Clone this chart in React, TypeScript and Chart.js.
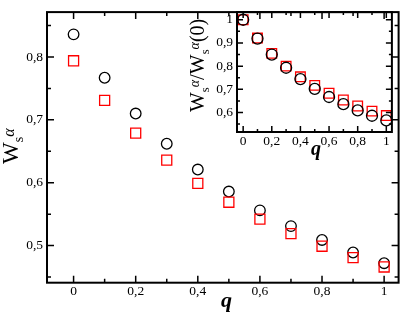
import React, { useEffect, useRef } from "react";
import { Chart, registerables } from "chart.js";

Chart.register(...registerables);

// ---------- data ----------
const Q = [0, 0.1, 0.2, 0.3, 0.4, 0.5, 0.6, 0.7, 0.8, 0.9, 1];
const MAIN_CIRCLES = [0.836, 0.767, 0.71, 0.662, 0.621, 0.586, 0.556, 0.531, 0.509, 0.489, 0.472];
const MAIN_SQUARES = [0.794, 0.731, 0.679, 0.636, 0.599, 0.569, 0.542, 0.519, 0.499, 0.481, 0.466];
const INSET_CIRCLES = [1.0, 0.919, 0.85, 0.793, 0.744, 0.702, 0.667, 0.636, 0.609, 0.586, 0.566];
const INSET_SQUARES = [1.0, 0.921, 0.855, 0.8, 0.754, 0.717, 0.683, 0.654, 0.628, 0.606, 0.587];

const MAIN_X_TICKS = [0, 0.2, 0.4, 0.6, 0.8, 1];
const MAIN_X_MINOR = [0.1, 0.3, 0.5, 0.7, 0.9];
const MAIN_Y_TICKS = [0.5, 0.6, 0.7, 0.8];
const MAIN_Y_MINOR = [0.45, 0.55, 0.65, 0.75, 0.85];
const INSET_X_TICKS = [0, 0.2, 0.4, 0.6, 0.8, 1];
const INSET_X_MINOR = [0.1, 0.3, 0.5, 0.7, 0.9];
const INSET_Y_TICKS = [0.6, 0.7, 0.8, 0.9, 1];
const INSET_Y_MINOR = [0.55, 0.65, 0.75, 0.85, 0.95];

const RED = "rgb(255,0,0)";

const fmt = (v: number) => {
  if (Math.abs(v) < 1e-9) return "0";
  if (Math.abs(v - 1) < 1e-9) return "1";
  return v.toFixed(1).replace(".", ",");
};

// pick an installed Times-like serif and the size factors that give Times-like widths
function pickFont() {
  const c = document.createElement("canvas").getContext("2d")!;
  const probe = "W0,8αq(Ws)";
  const has = (f: string) => {
    c.font = `40px ${f}, monospace`;
    const a = c.measureText(probe).width;
    c.font = "40px monospace";
    const b = c.measureText(probe).width;
    return Math.abs(a - b) > 0.5;
  };
  const cands = ['"Liberation Serif"', '"Times New Roman"', '"DejaVu Serif Condensed"', '"DejaVu Serif"'];
  let fam = "serif";
  for (const f of cands) {
    if (has(f)) {
      fam = f;
      break;
    }
  }
  fam = `${fam}, serif`;
  c.font = `100px ${fam}`;
  const kDigits = 125 / c.measureText("0,8").width; // Times: 1.25em
  const kW = 94.4 / c.measureText("W").width; // Times: 0.944em
  return { fam, kDigits: Math.min(1, kDigits), kW: Math.min(1, kW) };
}

type Part = { t: string; f: string; dy: number; keep?: boolean };

function drawRich(ctx: CanvasRenderingContext2D, x: number, y: number, parts: Part[], rotate: boolean) {
  ctx.save();
  ctx.translate(x, y);
  if (rotate) ctx.rotate(-Math.PI / 2);
  ctx.fillStyle = "#000";
  ctx.textBaseline = "alphabetic";
  ctx.textAlign = "left";
  let cx = 0;
  let groupW = 0;
  for (const p of parts) {
    ctx.font = p.f;
    ctx.fillText(p.t, cx, p.dy);
    const w = ctx.measureText(p.t).width;
    groupW = Math.max(groupW, w);
    if (!p.keep) {
      cx += groupW;
      groupW = 0;
    }
  }
  ctx.restore();
}

const framePlugin = {
  id: "frame",
  afterDraw(chart: any, _args: any, opts: any) {
    const { ctx, chartArea: a, scales } = chart;
    const x = scales.x;
    const y = scales.y;
    ctx.save();
    ctx.strokeStyle = "#000";
    ctx.lineWidth = opts.tickWidth;
    const vTick = (v: number, len: number) => {
      const px = x.getPixelForValue(v);
      ctx.beginPath();
      ctx.moveTo(px, a.bottom);
      ctx.lineTo(px, a.bottom - len);
      ctx.moveTo(px, a.top);
      ctx.lineTo(px, a.top + len);
      ctx.stroke();
    };
    const hTick = (v: number, len: number) => {
      const py = y.getPixelForValue(v);
      ctx.beginPath();
      ctx.moveTo(a.left, py);
      ctx.lineTo(a.left + len, py);
      ctx.moveTo(a.right, py);
      ctx.lineTo(a.right - len, py);
      ctx.stroke();
    };
    opts.xMajor.forEach((v: number) => vTick(v, opts.major));
    opts.xMinor.forEach((v: number) => vTick(v, opts.minor));
    opts.yMajor.forEach((v: number) => hTick(v, opts.major));
    opts.yMinor.forEach((v: number) => hTick(v, opts.minor));
    ctx.lineWidth = opts.lineWidth;
    ctx.strokeRect(a.left, a.top, a.right - a.left, a.bottom - a.top);
    ctx.restore();
  },
};

const titlesPlugin = {
  id: "titles",
  afterDraw(chart: any, _args: any, opts: any) {
    const ctx = chart.ctx;
    opts.items.forEach((it: any) => drawRich(ctx, it.x, it.y, it.parts, it.rotate));
  },
};

function axis(min: number, max: number, ticks: number[], padding: number, size: number, horizontal: boolean, fam: string, fs: number) {
  return {
    type: "linear" as const,
    min,
    max,
    grid: { display: false, drawTicks: false },
    border: { display: false },
    ticks: {
      color: "#000",
      font: { family: fam, size: fs },
      padding,
      autoSkip: false,
      maxRotation: 0,
      callback: (v: any) => fmt(Number(v)),
    },
    afterBuildTicks: (s: any) => {
      s.ticks = ticks.map((v) => ({ value: v }));
    },
    afterFit: (s: any) => {
      if (horizontal) s.height = size;
      else s.width = size;
    },
  };
}

function points(ys: number[]) {
  return Q.map((q, i) => ({ x: q, y: ys[i] }));
}

export default function App() {
  const mainRef = useRef<HTMLCanvasElement>(null);
  const insetRef = useRef<HTMLCanvasElement>(null);

  useEffect(() => {
    const { fam, kDigits, kW } = pickFont();
    const tickSize = 13.5 * kDigits;
    const big = (s: number) => `${(s * kW).toFixed(2)}px ${fam}`;
    const small = (s: number) => `${(s * kW).toFixed(2)}px ${fam}`;
    const ital = (s: number, bold = false) => `italic ${bold ? "bold " : ""}${(s * kW).toFixed(2)}px ${fam}`;

    const main = new Chart(mainRef.current!, {
      type: "scatter",
      data: {
        datasets: [
          {
            data: points(MAIN_SQUARES),
            pointStyle: "rect",
            pointRadius: 7.1,
            pointBorderColor: RED,
            pointBackgroundColor: "rgba(0,0,0,0)",
            pointBorderWidth: 1.3,
            showLine: false,
          },
          {
            data: points(MAIN_CIRCLES),
            pointStyle: "circle",
            pointRadius: 5.3,
            pointBorderColor: "#000",
            pointBackgroundColor: "rgba(0,0,0,0)",
            pointBorderWidth: 1.3,
            showLine: false,
          },
        ],
      },
      options: {
        responsive: false,
        animation: false,
        layout: { padding: { top: 2.5, right: 3, left: 0, bottom: 0 } },
        plugins: {
          legend: { display: false },
          tooltip: { enabled: false },
          frame: {
            lineWidth: 2,
            tickWidth: 1.5,
            major: 7,
            minor: 4,
            xMajor: MAIN_X_TICKS,
            xMinor: MAIN_X_MINOR,
            yMajor: MAIN_Y_TICKS,
            yMinor: MAIN_Y_MINOR,
          },
          titles: {
            items: [
              {
                x: 221,
                y: 307,
                rotate: false,
                parts: [{ t: "q", f: ital(22, true), dy: 0 }],
              },
              {
                x: 18,
                y: 164,
                rotate: true,
                parts: [
                  { t: "W", f: big(23), dy: 0 },
                  { t: "s", f: small(14), dy: 5 },
                  { t: "α", f: ital(16), dy: -4 },
                ],
              },
            ],
          },
        } as any,
        scales: {
          x: axis(-0.0856, 1.0466, MAIN_X_TICKS, 1, 32.3, true, fam, tickSize),
          y: axis(0.441, 0.8714, MAIN_Y_TICKS, 4, 47, false, fam, tickSize),
        } as any,
      },
      plugins: [framePlugin, titlesPlugin],
    });

    const inset = new Chart(insetRef.current!, {
      type: "scatter",
      data: {
        datasets: [
          {
            data: points(INSET_CIRCLES),
            pointStyle: "circle",
            pointRadius: 5.5,
            pointBorderColor: "#000",
            pointBackgroundColor: "rgba(0,0,0,0)",
            pointBorderWidth: 1.3,
            showLine: false,
          },
          {
            data: points(INSET_SQUARES),
            pointStyle: "rect",
            pointRadius: 6.8,
            pointBorderColor: RED,
            pointBackgroundColor: "rgba(0,0,0,0)",
            pointBorderWidth: 1.3,
            showLine: false,
          },
        ],
      },
      options: {
        responsive: false,
        animation: false,
        layout: { padding: { top: 10.7, right: 4.3, left: 0, bottom: 0 } },
        plugins: {
          legend: { display: false },
          tooltip: { enabled: false },
          frame: {
            lineWidth: 2,
            tickWidth: 1.5,
            major: 6,
            minor: 3,
            xMajor: INSET_X_TICKS,
            xMinor: INSET_X_MINOR,
            yMajor: INSET_Y_TICKS,
            yMinor: INSET_Y_MINOR,
          },
          titles: {
            items: [
              {
                x: 131,
                y: 155,
                rotate: false,
                parts: [{ t: "q", f: ital(20, true), dy: 0 }],
              },
              {
                x: 24,
                y: 112,
                rotate: true,
                parts: [
                  { t: "W", f: big(21), dy: 0 },
                  { t: "s", f: small(12.5), dy: 5 },
                  { t: "α", f: ital(14), dy: -5 },
                  { t: "/", f: big(21), dy: 0 },
                  { t: "W", f: big(21), dy: 0 },
                  { t: "s", f: small(12.5), dy: 5 },
                  { t: "α", f: ital(14), dy: -5 },
                  { t: "(0)", f: big(20), dy: 0 },
                ],
              },
            ],
          },
        } as any,
        scales: {
          x: axis(-0.043, 1.039, INSET_X_TICKS, 1, 30, true, fam, tickSize),
          y: axis(0.516, 1.033, INSET_Y_TICKS, 4, 57, false, fam, tickSize),
        } as any,
      },
      plugins: [framePlugin, titlesPlugin],
    });

    return () => {
      main.destroy();
      inset.destroy();
    };
  }, []);

  return (
    <div style={{ position: "absolute", left: 0, top: 0, width: 407, height: 315, background: "#fff" }}>
      <canvas ref={mainRef} width={407} height={315} style={{ position: "absolute", left: 0, top: 0 }} />
      <canvas ref={insetRef} width={220} height={162} style={{ position: "absolute", left: 180, top: 0 }} />
    </div>
  );
}
